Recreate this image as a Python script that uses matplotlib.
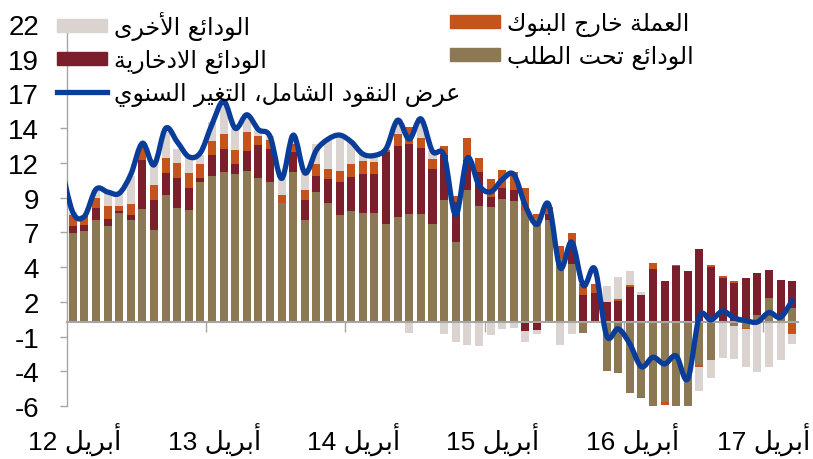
import re
import numpy as np
import matplotlib
matplotlib.use("Agg")
import matplotlib.pyplot as plt
from matplotlib.path import Path
from matplotlib.patches import PathPatch, Patch
from matplotlib.lines import Line2D
from matplotlib.transforms import blended_transform_factory, offset_copy

# contributions to broad money growth, monthly Apr 2012 - Jun 2017
demand = [6.6, 6.7, 7.5, 7.1, 8.06, 7.56, 8.33, 6.78, 9.41, 8.45, 8.28, 10.3,
          10.79, 11.08, 10.91, 11.18, 10.64, 10.35, 8.82, 11.08, 7.56, 9.61, 8.8, 7.88,
          8.23, 8.06, 8.06, 7.2, 7.76, 7.94, 7.94, 7.2, 9.0, 5.92, 9.78, 8.57,
          8.5, 9.1, 8.92, 8.2, 7.7, 7.5, 4.7, 4.3, -0.8, 0.0, -3.63, -3.8,
          -5.27, -5.52, -7.0, -5.94, -6.8, -7.9, -3.19, -2.82, -0.05, -0.3, -0.45, 0.55,
          1.78, 0.45, 1.0]
savings = [0.5, 0.45, 0.95, 0.5, 0.12, 0.32, 3.66, 2.21, 1.6, 2.19, 1.62, 0.34,
           1.57, 1.72, 0.76, 1.42, 2.46, 2.45, 0.0, 1.48, 1.43, 1.2, 1.77, 2.47,
           2.51, 2.88, 2.88, 5.36, 5.24, 5.18, 4.93, 4.13, 3.3, 2.95, 2.17, 2.51,
           0.73, 0.8, 0.81, -0.68, -0.57, 0.45, 0.0, 1.47, 1.98, 2.17, 1.48, 1.54,
           2.55, 1.98, 3.9, 3.01, 4.15, 3.78, 5.42, 4.07, 3.26, 2.89, 3.28, 3.08,
           2.09, 2.64, 2.04]
currency = [0.8, 0.65, 0.7, 1.0, 0.37, 0.84, 0.94, 1.11, 1.11, 1.13, 1.11, 1.06,
            1.01, 1.11, 1.06, 1.44, 0.64, 0.62, 0.59, 0.61, 0.79, 0.86, 0.76, 0.83,
            0.96, 0.93, 0.9, 0.17, 0.91, 1.28, 0.74, 0.67, 0.66, 0.42, 1.64, 1.02,
            1.3, 1.3, 1.35, 1.7, 0.3, 0.55, 0.9, 0.8, 0.86, 0.66, 0.0, 0.14,
            0.17, -0.1, 0.47, -0.2, 0.09, 0.0, -0.12, 0.12, 0.12, 0.12, -0.1, 0.0,
            0.0, 0.0, -0.91]
other = [0.2, 0.1, 0.5, 0.86, 0.9, 2.07, 0.2, 1.6, 1.92, 1.03, 1.18, 0.61,
         1.4, 2.34, 1.55, 1.1, 0.42, 0.3, 1.18, 0.6, 1.18, 1.5, 2.21, 2.61,
         1.6, 0.6, 0.35, 0.05, 0.9, -0.8, 1.3, 0.6, -0.85, -1.51, -1.66, -1.75,
         -0.97, -0.54, -0.42, -0.79, -0.3, 0.0, -1.72, -0.86, 0.0, 0.0, 1.16, 1.64,
         1.03, 0.25, 0.0, 0.0, 0.0, 0.0, -1.8, -1.3, -2.64, -2.44, -2.76, -3.68,
         -3.31, -2.82, -0.68]
# broad money y/y growth, Mar 2012 - Jun 2017
m2 = [11.5, 8.1, 7.8, 9.8, 9.6, 9.5, 10.9, 13.2, 11.6, 14.3, 13.3, 12.2, 12.5,
      14.6, 16.3, 14.3, 15.3, 14.2, 13.7, 10.6, 13.8, 11.0, 12.7, 13.5, 13.8,
      13.3, 12.4, 12.3, 12.8, 14.9, 13.5, 15.0, 12.6, 12.3, 7.9, 12.1, 10.1,
      9.6, 10.5, 10.9, 8.6, 7.2, 8.7, 4.0, 5.9, 2.7, 3.9, -1.0, -0.5,
      -1.6, -3.3, -2.6, -3.1, -2.5, -4.2, 0.4, 0.15, 0.8, 0.3, 0.1, 0.0,
      0.7, 0.35, 1.6]

series_names = ["الودائع تحت الطلب", "الودائع الادخارية", "العملة خارج البنوك", "الودائع الأخرى"]
line_name = "عرض النقود الشامل، التغير السنوي"
year_labels = ["أبريل 12", "أبريل 13", "أبريل 14", "أبريل 15", "أبريل 16", "أبريل 17"]
ytick_labels = ["-6", "-4", "-1", "2", "4", "7", "9", "12", "14", "17", "19", "22"]

colors = ["#8c7853", "#7a1f2b", "#c5531c", "#dad3cf"]
line_color = "#0a3d9a"
axis_color = "#a6a6a6"

# --- minimal arabic shaping (presentation forms) + visual order ---
FORMS = {
    'آ': (0xFE81, 2), 'أ': (0xFE83, 2), 'ؤ': (0xFE85, 2), 'إ': (0xFE87, 2),
    'ئ': (0xFE89, 4), 'ا': (0xFE8D, 2), 'ب': (0xFE8F, 4), 'ة': (0xFE93, 2),
    'ت': (0xFE95, 4), 'ث': (0xFE99, 4), 'ج': (0xFE9D, 4), 'ح': (0xFEA1, 4),
    'خ': (0xFEA5, 4), 'د': (0xFEA9, 2), 'ذ': (0xFEAB, 2), 'ر': (0xFEAD, 2),
    'ز': (0xFEAF, 2), 'س': (0xFEB1, 4), 'ش': (0xFEB5, 4), 'ص': (0xFEB9, 4),
    'ض': (0xFEBD, 4), 'ط': (0xFEC1, 4), 'ظ': (0xFEC5, 4), 'ع': (0xFEC9, 4),
    'غ': (0xFECD, 4), 'ف': (0xFED1, 4), 'ق': (0xFED5, 4), 'ك': (0xFED9, 4),
    'ل': (0xFEDD, 4), 'م': (0xFEE1, 4), 'ن': (0xFEE5, 4), 'ه': (0xFEE9, 4),
    'و': (0xFEED, 2), 'ى': (0xFEEF, 2), 'ي': (0xFEF1, 4),
}
LAM_ALEF = {'آ': 0xFEF5, 'أ': 0xFEF7, 'إ': 0xFEF9, 'ا': 0xFEFB}


def shape(text):
    out = []
    i = 0
    while i < len(text):
        c = text[i]
        if c not in FORMS:
            out.append(c)
            i += 1
            continue
        prev = text[i - 1] if i > 0 else ''
        joins_prev = prev in FORMS and FORMS[prev][1] == 4
        if c == 'ل' and i + 1 < len(text) and text[i + 1] in LAM_ALEF:
            out.append(chr(LAM_ALEF[text[i + 1]] + (1 if joins_prev else 0)))
            i += 2
            continue
        nxt = text[i + 1] if i + 1 < len(text) else ''
        base, n = FORMS[c]
        joins_next = n == 4 and nxt in FORMS
        if joins_prev and joins_next:
            code = base + 3
        elif joins_prev:
            code = base + 1
        elif joins_next:
            code = base + 2
        else:
            code = base
        out.append(chr(code))
        i += 1
    return ''.join(out)


def rtl(text):
    s = shape(text)[::-1]
    return re.sub(r'\d+', lambda m: m.group(0)[::-1], s)


plt.rcParams['font.family'] = ['Liberation Sans', 'DejaVu Sans']

fig = plt.figure(figsize=(8.13, 4.6), dpi=100)
W, H = 813, 460
ax = fig.add_axes([67 / W, 1 - 407 / H, (798 - 67) / W, (407 - 25) / H])

n = len(demand)
x = np.arange(n)
pos_base = np.zeros(n)
neg_base = np.zeros(n)
for vals, color in zip([demand, savings, currency, other], colors):
    v = np.array(vals)
    base = np.where(v >= 0, pos_base, neg_base)
    ax.bar(x, v, width=0.69, bottom=base, color=color, linewidth=0, zorder=2)
    pos_base += np.clip(v, 0, None)
    neg_base += np.clip(v, None, 0)

# smoothed line (bezier through the monthly points)
lx = np.arange(-1, n)
ly = np.array(m2)
pts = np.column_stack([lx, ly])
verts = [pts[0]]
codes = [Path.MOVETO]
for i in range(len(pts) - 1):
    p0 = pts[max(i - 1, 0)]
    p1 = pts[i]
    p2 = pts[i + 1]
    p3 = pts[min(i + 2, len(pts) - 1)]
    verts += [p1 + (p2 - p0) / 6, p2 - (p3 - p1) / 6, p2]
    codes += [Path.CURVE4] * 3
ax.add_patch(PathPatch(Path(verts, codes), fill=False, edgecolor=line_color,
                       lw=3.8, joinstyle='round', capstyle='round', zorder=3))

ymin, ymax = -6.2, 22.0
ax.set_ylim(ymin, ymax)
ax.set_yticks(np.linspace(ymin, ymax, 12))
ax.set_yticklabels(ytick_labels)
ax.tick_params(axis='y', length=5, width=1, color=axis_color, pad=15, labelsize=20)

for s in ['top', 'right']:
    ax.spines[s].set_visible(False)
ax.spines['left'].set_color(axis_color)
ax.spines['left'].set_linewidth(1)
ax.spines['bottom'].set_position(('data', 0))
ax.spines['bottom'].set_color(axis_color)
ax.spines['bottom'].set_linewidth(1.5)
ax.spines['bottom'].set_zorder(2.5)

# year boundaries get the tick marks, April bars get the labels
april = np.arange(0, n, 12)
ax.set_xticks(np.arange(11.5, n, 12))
ax.set_xticklabels([])
ax.tick_params(axis='x', length=7, width=1, color=axis_color, direction='out')
ax.set_xlim(-0.5, n - 0.5)

trans = blended_transform_factory(ax.transData, ax.transAxes)
year_texts = []
for xi, lab in zip(april, year_labels):
    year_texts.append(ax.text(xi + 0.2, -0.087, rtl(lab), transform=trans,
                              ha='center', va='center', fontsize=19))

leg_fs = 17
left_handles = [Patch(color=colors[3]), Patch(color=colors[1]),
                Line2D([], [], color=line_color, lw=3.8)]
left_labels = [rtl(series_names[3]), rtl(series_names[1]), rtl(line_name)]
right_handles = [Patch(color=colors[2]), Patch(color=colors[0])]
right_labels = [rtl(series_names[2]), rtl(series_names[0])]

kw = dict(loc='upper left', frameon=False, handlelength=2.1,
          handleheight=0.5, handletextpad=0.3, labelspacing=0.33,
          borderpad=0, borderaxespad=0, prop={'family': 'DejaVu Sans', 'size': leg_fs})
leg1 = fig.legend(left_handles, left_labels, bbox_to_anchor=(57 / W, 1 - 12 / H), **kw)
leg2 = fig.legend(right_handles, right_labels, bbox_to_anchor=(450 / W, 1 - 12 / H), **kw)
leg1.set_zorder(5)
leg2.set_zorder(5)

# keep the last year label inside the figure
fig.canvas.draw()
renderer = fig.canvas.get_renderer()
for t in year_texts:
    bb = t.get_window_extent(renderer)
    over = bb.x1 - (W - 3)
    if over > 0:
        t.set_transform(offset_copy(trans, fig=fig, x=-over, y=0, units='dots'))

fig.savefig("out.png", dpi=100)
